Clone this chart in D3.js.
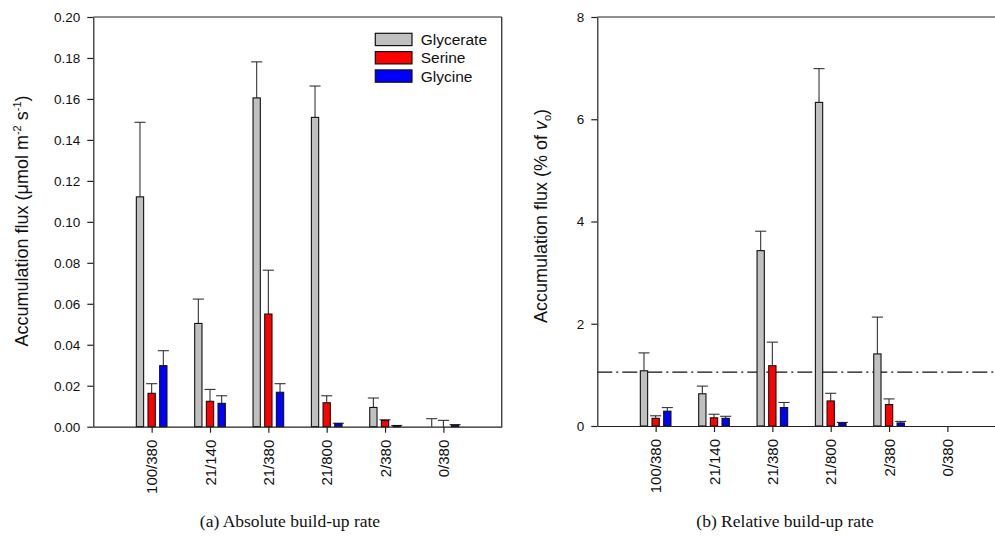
<!DOCTYPE html>
<html>
<head>
<meta charset="utf-8">
<script src="https://cdn.jsdelivr.net/npm/d3@7"></script>
<style>
  body { margin: 0; background: #fff; }
  svg { display: block; }
  .axis text { font-family: "Liberation Sans", Arial, sans-serif; fill: #111; }
  .axis path, .axis line { stroke: #222; stroke-width: 1.2; }
</style>
</head>
<body>
<div id="chart"></div>
<script>
// categories (light intensity / CO2) and series
var categories = ["100/380", "21/140", "21/380", "21/800", "2/380", "0/380"];
var seriesNames = ["Glycerate", "Serine", "Glycine"];
var seriesColors = ["#c0c0c0", "#ff0000", "#0000ff"];

// (a) absolute build-up rate, umol m-2 s-1
var absGlycerate = [0.1122, 0.0504, 0.1605, 0.1510, 0.0094, 0];
var absGlycerateErr = [0.0364, 0.0119, 0.0176, 0.0153, 0.0046, 0.0039];
var absSerine = [0.0163, 0.0124, 0.0550, 0.0117, 0.0030, 0];
var absSerineErr = [0.0047, 0.0058, 0.0214, 0.0034, 0.0004, 0.0031];
var absGlycine = [0.0298, 0.0114, 0.0168, 0.0015, 0.0005, 0.0008];
var absGlycineErr = [0.0073, 0.0037, 0.0042, 0.0002, 0.0001, 0.0002];

// (b) relative build-up rate, % of vo
var relGlycerate = [1.08, 0.63, 3.43, 6.33, 1.41, 0];
var relGlycerateErr = [0.35, 0.15, 0.38, 0.66, 0.72, 0];
var relSerine = [0.15, 0.16, 1.18, 0.49, 0.42, 0];
var relSerineErr = [0.05, 0.07, 0.46, 0.15, 0.11, 0];
var relGlycine = [0.29, 0.15, 0.36, 0.06, 0.06, 0];
var relGlycineErr = [0.07, 0.04, 0.10, 0.01, 0.03, 0];
var relReference = 1.055;

var yTicksAbs = [0, 0.02, 0.04, 0.06, 0.08, 0.10, 0.12, 0.14, 0.16, 0.18, 0.20];
var yTicksRel = [0, 2, 4, 6, 8];

var svgWidth = 995;
var svgHeight = 538;

var svg = d3.select("#chart")
    .append("svg")
    .attr("width", svgWidth)
    .attr("height", svgHeight);

//Draw one bar panel
function drawPanel(p) {
    var x = d3.scaleLinear().domain([0, 7]).range([p.left, p.left + 7 * 58.35]);
    var y = d3.scaleLinear().domain(p.yDomain).range([p.bottom, p.top]);
    var g = svg.append("g");

    //frame top and right
    g.append("line")
        .attr("x1", x(0)).attr("x2", x(7))
        .attr("y1", y(p.yDomain[1])).attr("y2", y(p.yDomain[1]))
        .attr("stroke", "#222").attr("stroke-width", 1.2);
    g.append("line")
        .attr("x1", x(7)).attr("x2", x(7))
        .attr("y1", y(p.yDomain[1])).attr("y2", y(0))
        .attr("stroke", "#222").attr("stroke-width", 1.2);

    //reference line
    if (p.reference !== undefined) {
        g.append("line")
            .attr("x1", x(0)).attr("x2", x(7))
            .attr("y1", y(p.reference)).attr("y2", y(p.reference))
            .attr("stroke", "#111").attr("stroke-width", 1.2)
            .attr("stroke-dasharray", "15,4,2,4");
    }

    //bars and error bars
    var offsets = [-0.2, 0, 0.2];
    var bw = 0.125;
    p.values.forEach(function(vals, s) {
        var rows = vals.map(function(v, i) {
            return {i: i + 1, v: v, e: p.errors[s][i]};
        });
        var grp = g.append("g");
        grp.selectAll("line.err")
            .data(rows.filter(d => d.e > 0))
            .enter()
            .append("line")
            .attr("x1", d => x(d.i + offsets[s]))
            .attr("x2", d => x(d.i + offsets[s]))
            .attr("y1", d => y(d.v))
            .attr("y2", d => y(d.v + d.e))
            .attr("stroke", "#333").attr("stroke-width", 1.1);
        grp.selectAll("line.cap")
            .data(rows.filter(d => d.e > 0))
            .enter()
            .append("line")
            .attr("x1", d => x(d.i + offsets[s] - 0.095))
            .attr("x2", d => x(d.i + offsets[s] + 0.095))
            .attr("y1", d => y(d.v + d.e))
            .attr("y2", d => y(d.v + d.e))
            .attr("stroke", "#333").attr("stroke-width", 1.1);
        grp.selectAll("rect")
            .data(rows.filter(d => d.v > 0))
            .enter()
            .append("rect")
            .attr("x", d => x(d.i + offsets[s] - bw / 2))
            .attr("width", x(bw) - x(0))
            .attr("y", d => y(d.v))
            .attr("height", d => y(0) - y(d.v))
            .attr("fill", seriesColors[s])
            .attr("stroke", "#111")
            .attr("stroke-width", 1.1);
    });

    //axes
    var leftAxis = d3.axisLeft(y)
        .tickValues(p.yTicks)
        .tickFormat(p.yFormat)
        .tickSize(6)
        .tickSizeOuter(0)
        .tickPadding(7);
    g.append("g")
        .attr("class", "axis")
        .attr("transform", `translate(${x(0)}, 0)`)
        .call(leftAxis)
        .selectAll("text")
        .style("font-size", "13.5px");

    var bottomAxis = d3.axisBottom(x)
        .tickValues([1, 2, 3, 4, 5, 6])
        .tickFormat(d => categories[d - 1])
        .tickSize(6)
        .tickSizeOuter(0);
    g.append("g")
        .attr("class", "axis")
        .attr("transform", `translate(0, ${y(0)})`)
        .call(bottomAxis)
        .selectAll("text")
        .style("font-size", "15px")
        .attr("transform", "rotate(-90)")
        .attr("text-anchor", "end")
        .attr("x", -13)
        .attr("y", 0)
        .attr("dy", "0.35em");

    //y label
    var lab = g.append("text")
        .attr("transform", `translate(${p.labelX}, ${p.labelY}) rotate(-90)`)
        .attr("text-anchor", "middle")
        .style("font-family", "'Liberation Sans', Arial, sans-serif")
        .style("font-size", "18px")
        .attr("fill", "#111");
    p.label(lab);

    //caption
    svg.append("text")
        .attr("x", p.captionX)
        .attr("y", 527)
        .attr("text-anchor", "middle")
        .style("font-family", "'Liberation Serif', 'Times New Roman', serif")
        .style("font-size", "17.5px")
        .attr("fill", "#111")
        .text(p.caption);

    return {x: x, y: y};
}

drawPanel({
    left: 93.3, top: 17, bottom: 426.7,
    yDomain: [0, 0.2], yTicks: yTicksAbs, yFormat: d3.format(".2f"),
    values: [absGlycerate, absSerine, absGlycine],
    errors: [absGlycerateErr, absSerineErr, absGlycineErr],
    labelX: 28, labelY: 221,
    label: function(t) {
        t.append("tspan").text("Accumulation flux (\u03bcmol m");
        t.append("tspan").attr("dy", -7).style("font-size", "11px").text("-2");
        t.append("tspan").attr("dy", 7).text(" s");
        t.append("tspan").attr("dy", -7).style("font-size", "11px").text("-1");
        t.append("tspan").attr("dy", 7).text(")");
    },
    caption: "(a) Absolute build-up rate", captionX: 290
});

drawPanel({
    left: 597.3, top: 17, bottom: 426,
    yDomain: [0, 8], yTicks: yTicksRel, yFormat: d3.format("d"),
    values: [relGlycerate, relSerine, relGlycine],
    errors: [relGlycerateErr, relSerineErr, relGlycineErr],
    reference: relReference,
    labelX: 547, labelY: 216,
    label: function(t) {
        t.append("tspan").text("Accumulation flux (% of ");
        t.append("tspan").style("font-style", "italic").text("v");
        t.append("tspan").attr("dy", 4).style("font-size", "11px").text("o");
        t.append("tspan").attr("dy", -4).text(")");
    },
    caption: "(b) Relative build-up rate", captionX: 785
});

//legend
var legend = svg.append("g").attr("transform", "translate(375.3, 33.3)");
seriesNames.forEach(function(name, i) {
    legend.append("rect")
        .attr("x", 0).attr("y", i * 18.3)
        .attr("width", 36.7).attr("height", 12.3)
        .attr("fill", seriesColors[i])
        .attr("stroke", "#111").attr("stroke-width", 1.2);
    legend.append("text")
        .attr("x", 45.4).attr("y", i * 18.3 + 11.8)
        .style("font-family", "'Liberation Sans', Arial, sans-serif")
        .style("font-size", "15.5px")
        .attr("fill", "#111")
        .text(name);
});
</script>
</body>
</html>
